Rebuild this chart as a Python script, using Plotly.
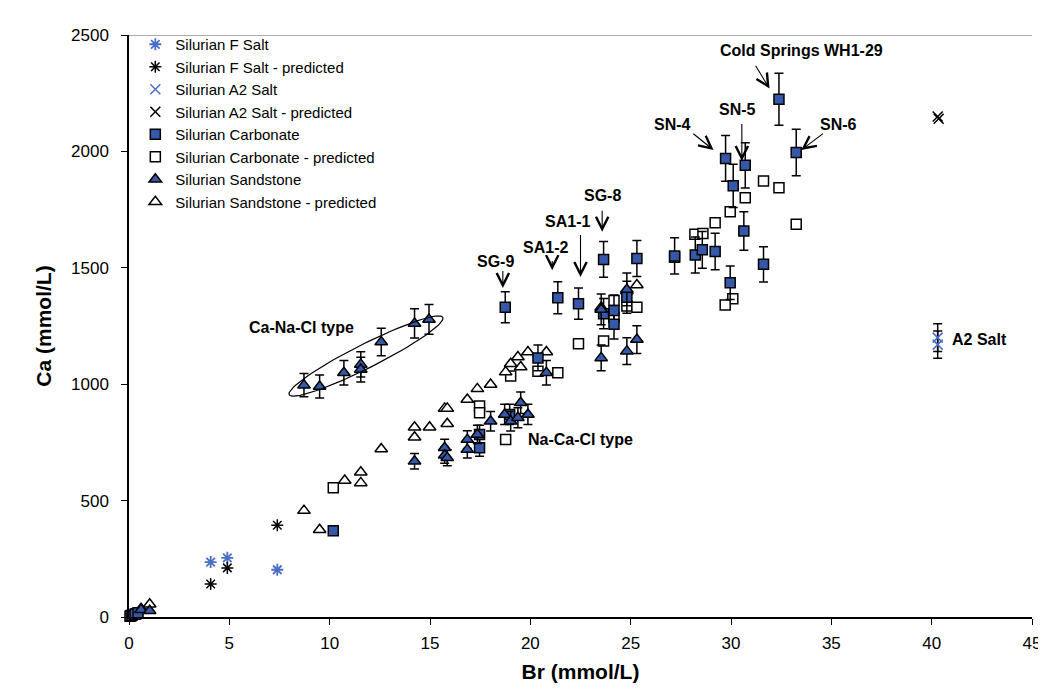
import numpy as np
import plotly.graph_objects as go

# Silurian F Salt
f_salt_br = [4.07, 4.9, 7.39]
f_salt_ca = [236, 254, 203]
f_pred_br = [4.07, 4.9, 7.39]
f_pred_ca = [142, 211, 394]

# Silurian A2 Salt
a2_br = [40.3, 40.3]
a2_ca = [1170, 1200]
a2_pred_br = [40.3, 40.35]
a2_pred_ca = [2150, 2140]

# Silurian Carbonate
carb_br = [0.05, 0.15, 0.3, 0.45, 10.18, 17.47, 17.47, 18.97, 20.38, 18.75, 21.37, 22.4,
           23.65, 25.31, 23.65, 24.17, 24.17, 24.81, 27.19, 28.22, 28.57, 29.21, 29.96,
           30.64, 31.62, 32.39, 29.73, 30.11, 30.71, 33.25]
carb_ca = [3, 8, 12, 18, 371, 784, 727, 870, 1113, 1331, 1371, 1346,
           1536, 1540, 1303, 1317, 1257, 1374, 1551, 1555, 1577, 1570, 1436,
           1658, 1515, 2224, 1970, 1852, 1940, 1995]
carb_pred_br = [0.1, 0.35, 10.18, 17.47, 17.47, 18.77, 19.02, 20.38, 21.37, 22.4, 23.65,
                24.17, 24.17, 24.81, 25.31, 27.19, 28.2, 28.6, 29.21, 29.96, 30.71, 31.62,
                32.39, 33.25, 30.09, 29.71]
carb_pred_ca = [5, 14, 555, 906, 877, 762, 1035, 1056, 1049, 1174, 1186,
                1360, 1288, 1336, 1331, 1545, 1644, 1647, 1694, 1741, 1801, 1873,
                1844, 1687, 1367, 1340]

# Silurian Sandstone
sand_br = [0.6, 1.03, 8.72, 9.5, 10.71, 11.55, 11.55, 12.57, 14.23, 14.95,
           14.23, 15.73, 15.73, 15.86, 16.86, 16.86, 17.36, 18.02, 18.72, 19.02, 19.38,
           19.52, 19.88, 20.8, 23.53, 23.53, 24.81, 24.81, 25.31]
sand_ca = [31, 27, 996, 990, 1049, 1085, 1063, 1181, 1261, 1278,
           669, 727, 695, 684, 762, 719, 784, 841, 870, 841, 856,
           920, 870, 1049, 1321, 1113, 1407, 1142, 1192]
sand_pred_br = [0.6, 1.03, 8.72, 9.5, 10.75, 11.55, 11.55, 12.57, 14.23, 14.23, 14.98,
                15.73, 15.86, 15.86, 16.86, 17.36, 18.02, 18.77, 19.02, 19.38, 19.52,
                19.88, 20.8, 25.31, 24.81, 23.53]
sand_pred_ca = [36, 55, 457, 375, 586, 622, 576, 722, 815, 772, 815,
                896, 896, 830, 934, 980, 999, 1052, 1088, 1117, 1074,
                1138, 1138, 1426, 1400, 1330]

# labels: text, text position, arrow tail, arrow head
labels = [
    ("Cold Springs WH1-29", 33.5, 2433, 31.18, 2374, 31.92, 2270),
    ("SN-4", 27.1, 2114, 28.05, 2081, 29.13, 2006),
    ("SN-5", 30.34, 2181, 30.54, 2124, 30.54, 1959),
    ("SN-6", 35.36, 2114, 34.66, 2081, 33.5, 2006),
    ("SG-8", 23.62, 1809, 23.58, 1751, 23.58, 1655),
    ("SA1-1", 21.87, 1701, 22.5, 1647, 22.5, 1460),
    ("SA1-2", 20.74, 1589, 21.09, 1536, 21.09, 1490),
    ("SG-9", 18.25, 1529, 18.63, 1493, 18.63, 1413),
]
type_labels = [
    ("Ca-Na-Cl type", 8.62, 1242),
    ("Na-Ca-Cl type", 22.5, 762),
    ("A2 Salt", 42.4, 1190),
]

blue = "#3558A8"
light_blue = "#4a6fc4"
err = dict(type="percent", value=5, color="black", thickness=1.5, width=4.5)

fig = go.Figure()
fig.add_trace(go.Scatter(name="Silurian F Salt", x=f_salt_br, y=f_salt_ca, mode="markers",
                         marker=dict(symbol="asterisk-open", size=10, color=light_blue,
                                     line=dict(color=light_blue, width=1.8))))
fig.add_trace(go.Scatter(name="Silurian F Salt - predicted", x=f_pred_br, y=f_pred_ca, mode="markers",
                         marker=dict(symbol="asterisk-open", size=10, color="black",
                                     line=dict(color="black", width=1.5))))
fig.add_trace(go.Scatter(name="Silurian A2 Salt", x=a2_br, y=a2_ca, mode="markers", error_y=err,
                         marker=dict(symbol="x-thin-open", size=10, color=light_blue,
                                     line=dict(color=light_blue, width=1.5))))
fig.add_trace(go.Scatter(name="Silurian A2 Salt - predicted", x=a2_pred_br, y=a2_pred_ca, mode="markers",
                         marker=dict(symbol="x-thin-open", size=10, color="black",
                                     line=dict(color="black", width=1.5))))
fig.add_trace(go.Scatter(name="Silurian Carbonate - predicted", x=carb_pred_br, y=carb_pred_ca, mode="markers",
                         marker=dict(symbol="square", size=10, color="white", line=dict(color="black", width=1.5)),
                         legendrank=6))
fig.add_trace(go.Scatter(name="Silurian Sandstone - predicted", x=sand_pred_br, y=sand_pred_ca, mode="markers",
                         marker=dict(symbol="triangle-up", size=11, color="white", line=dict(color="black", width=1.5)),
                         legendrank=8))
fig.add_trace(go.Scatter(name="Silurian Carbonate", x=carb_br, y=carb_ca, mode="markers", error_y=err,
                         marker=dict(symbol="square", size=10, color=blue, line=dict(color="black", width=1.5)),
                         legendrank=5))
fig.add_trace(go.Scatter(name="Silurian Sandstone", x=sand_br, y=sand_ca, mode="markers", error_y=err,
                         marker=dict(symbol="triangle-up", size=11, color=blue, line=dict(color="black", width=1.5)),
                         legendrank=7))
for i, tr in enumerate(fig.data[:4]):
    tr.legendrank = i + 1

# ellipse around the Ca-Na-Cl group (drawn in screen proportions)
ex_px, ey_px = 20.067, 0.2328
cx, cy, a, b, ang = 11.81, 1121, 86, 12, np.radians(26.7)
t = np.linspace(0, 2 * np.pi, 100)
dx = a * np.cos(t) * np.cos(ang) - b * np.sin(t) * np.sin(ang)
dy = a * np.cos(t) * np.sin(ang) + b * np.sin(t) * np.cos(ang)
fig.add_trace(go.Scatter(x=cx + dx / ex_px, y=cy + dy / ey_px, mode="lines", showlegend=False,
                         line=dict(color="black", width=1.2), hoverinfo="skip"))

for tr in fig.data:
    tr.cliponaxis = False

for text, tx, ty, ax, ay, hx, hy in labels:
    fig.add_annotation(x=tx, y=ty, text="<b>%s</b>" % text, showarrow=False,
                       font=dict(size=16, color="black"))
    fig.add_annotation(x=hx, y=hy, ax=ax, ay=ay, axref="x", ayref="y", text="",
                       showarrow=True, arrowhead=5, arrowsize=2.2, arrowwidth=1.1, arrowcolor="black")
for text, tx, ty in type_labels:
    fig.add_annotation(x=tx, y=ty, text="<b>%s</b>" % text, showarrow=False,
                       font=dict(size=16, color="black"))

fig.add_shape(type="line", x0=0, x1=45, y0=2500, y1=2500, xref="x", yref="y",
              line=dict(color="#909090", width=1.5))

fig.update_layout(
    width=1046, height=700,
    margin=dict(l=121, r=22, t=27, b=91),
    plot_bgcolor="white", paper_bgcolor="white",
    font=dict(family="Liberation Sans, Arial", size=17, color="black"),
    legend=dict(x=0.007, y=1.012, xanchor="left", yanchor="top", bgcolor="rgba(0,0,0,0)",
                font=dict(size=15), tracegroupgap=0),
    xaxis=dict(range=[0, 45], dtick=5, showgrid=False, zeroline=False, showline=True,
               linecolor="black", linewidth=1.5, ticks="outside", ticklen=6, tickcolor="black",
               ticklabelstandoff=4,
               title=dict(text="<b>Br (mmol/L)</b>", font=dict(size=21), standoff=12)),
    yaxis=dict(range=[0, 2500], dtick=500, showgrid=False, zeroline=False, showline=True,
               linecolor="black", linewidth=1.5, ticks="outside", ticklen=6, tickcolor="black",
               ticklabelstandoff=9,
               title=dict(text="<b>Ca (mmol/L)</b>", font=dict(size=21), standoff=14)),
)

fig.write_html("out.html")
